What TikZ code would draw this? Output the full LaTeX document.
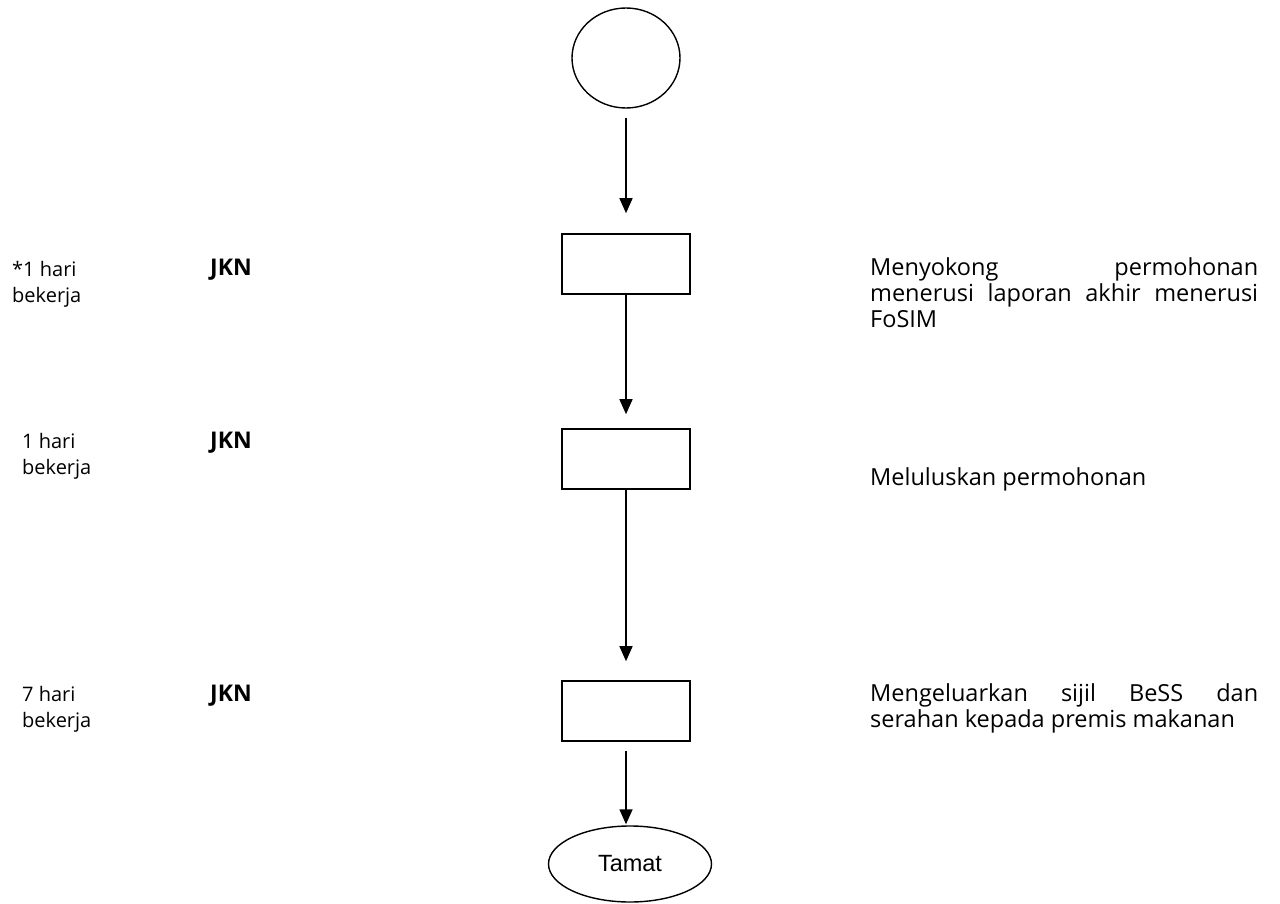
\documentclass[tikz,border=0pt]{standalone}
\usepackage{fontspec}
\setmainfont{Open Sans}
\newfontfamily\arialfont{Liberation Sans}
\usetikzlibrary{arrows.meta,shapes.geometric}
\tikzset{
  mulanode/.style={draw,ellipse,line width=1.4pt,minimum width=108pt,minimum height=100pt,inner sep=0pt},
  stepbox/.style={draw,line width=1.6pt,minimum width=128pt,minimum height=60pt,inner sep=0pt},
  tamatnode/.style={draw,ellipse,line width=1.4pt,minimum width=163pt,minimum height=76pt,inner sep=0pt,
    font=\arialfont\fontsize{23.5}{26}\selectfont},
  masa/.style={anchor=base west,align=left,inner sep=0pt,font=\fontsize{20}{26}\selectfont},
  pihak/.style={anchor=base west,inner sep=0pt,font=\bfseries\fontsize{23}{26}\selectfont},
  tugas/.style={anchor=base west,align=left,inner sep=0pt,font=\fontsize{23.5}{26}\selectfont},
  flow/.style={line width=1.5pt,-{Triangle[width=13pt,length=15pt]}}
}
\begin{document}
\begin{tikzpicture}[x=1pt,y=-1pt]
  \useasboundingbox (0,0) rectangle (1280,904);
  \node[mulanode] (mula) at (626,58) {};
  \node[stepbox] (sokong) at (626,264) {};
  \node[stepbox] (lulus) at (626,459) {};
  \node[stepbox] (keluar) at (626,711) {};
  \node[tamatnode] (tamat) at (630,864) {Tamat};

  \node[masa] (masa1) at (12,302) {*1 hari\\bekerja};
  \node[masa] (masa2) at (22,474) {1 hari\\bekerja};
  \node[masa] (masa3) at (22,727) {7 hari\\bekerja};
  \node[pihak] (jkn1) at (210,276) {JKN};
  \node[pihak] (jkn2) at (210,448) {JKN};
  \node[pihak] (jkn3) at (210,701) {JKN};

  \node[tugas] (tugas1) at (870,327) {\makebox[388pt][s]{Menyokong permohonan}\\
    \makebox[388pt][s]{menerusi laporan akhir menerusi}\\FoSIM};
  \node[tugas] (tugas2) at (870,485) {Meluluskan permohonan};
  \node[tugas] (tugas3) at (870,727) {\makebox[388pt][s]{Mengeluarkan sijil BeSS dan}\\
    serahan kepada premis makanan};

  \begin{scope}[flow]
    \draw[shorten <=9pt,shorten >=20pt] (mula) to (sokong);
    \draw[shorten >=14pt] (sokong.south) to (lulus.north);
    \draw[shorten >=19pt] (lulus.south) to (keluar.north);
    \draw[shorten <=9pt,shorten >=1pt] (keluar.south) to (keluar.south |- tamat.north);
  \end{scope}
\end{tikzpicture}
\end{document}
